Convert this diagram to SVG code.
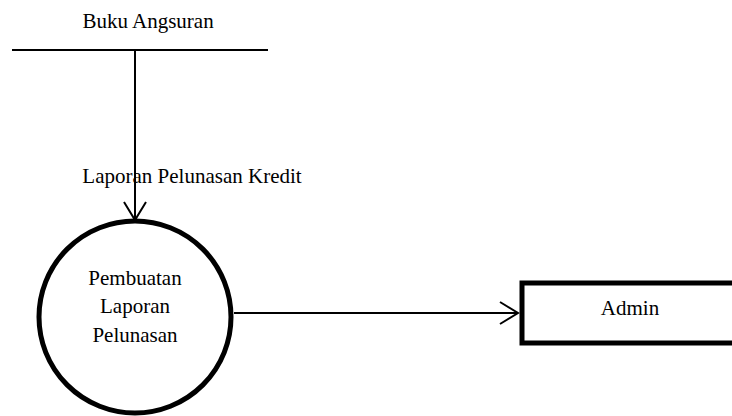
<svg xmlns="http://www.w3.org/2000/svg" width="732" height="416" viewBox="0 0 732 416">
<style>
text{font-family:'Liberation Serif','Times New Roman',serif;font-size:21px;fill:#000}
.ln{stroke:#000;stroke-width:2;fill:none}
</style>
<defs>
<marker id="ah" markerWidth="22" markerHeight="26" refX="20" refY="12" orient="auto" markerUnits="userSpaceOnUse">
<path d="M2,1 L20,12 L2,23" fill="none" stroke="#000" stroke-width="2"/>
</marker>
</defs>
<rect width="732" height="416" fill="#fff"/>
<g id="store">
<line x1="12" y1="50" x2="268" y2="50" class="ln"/>
<text x="148" y="28" text-anchor="middle">Buku Angsuran</text>
</g>
<g id="process">
<circle cx="135" cy="317" r="96" fill="#fff" stroke="#000" stroke-width="5"/>
<text x="135" y="285" text-anchor="middle">Pembuatan</text>
<text x="135" y="313" text-anchor="middle">Laporan</text>
<text x="135" y="342" text-anchor="middle">Pelunasan</text>
</g>
<g id="admin">
<rect x="522" y="283" width="215" height="60" fill="#fff" stroke="#000" stroke-width="5"/>
<text x="630" y="315" text-anchor="middle">Admin</text>
</g>
<g id="connectors">
<line x1="135" y1="50" x2="135" y2="220" class="ln" marker-end="url(#ah)"/>
<text x="192" y="183" text-anchor="middle">Laporan Pelunasan Kredit</text>
<line x1="234" y1="313" x2="518" y2="313" class="ln" marker-end="url(#ah)"/>
</g>
</svg>
